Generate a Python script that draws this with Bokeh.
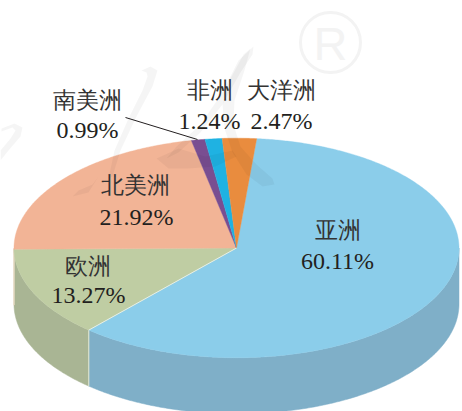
import numpy as np
from bokeh.embed import file_html
from bokeh.models import Range1d
from bokeh.plotting import figure
from bokeh.resources import INLINE
from bokeh.core.properties import value

# data (clockwise from the first slice)
regions = ["亚洲", "欧洲", "北美洲", "南美洲", "非洲", "大洋洲"]
shares = [60.11, 13.27, 21.92, 0.99, 1.24, 2.47]

# styling / layout
top_colors = ["#8BCDEA", "#BFCDA3", "#F2B496", "#794E91", "#1FB2E2", "#E98C3E"]
side_colors = ["#7FAFC8", "#A9B594", "#F2B496", "#794E91", "#1FB2E2", "#E98C3E"]
CX, CY, RX, RY, DEPTH = 236.0, 247.5, 222.5, 109.8, 56.0
START_DEG = 5.2
name_xy = [(337, 230), (87, 266), (135, 185), (87, 100), (209, 90), (281, 90)]
pct_xy = [(337, 260), (88, 294), (136, 216), (87, 129), (209, 120), (281, 120)]
TEXT_SIZE = "23px"
FONT = "Liberation Serif"

p = figure(width=462, height=411, output_backend="svg", toolbar_location=None,
           x_range=Range1d(0, 462), y_range=Range1d(411, 0),
           min_border=0, outline_line_color=None, background_fill_color="white")
p.xaxis.visible = False
p.yaxis.visible = False
p.grid.visible = False


def arc(t0, t1, dy=0.0):
    t = np.radians(np.linspace(t0, t1, max(int(abs(t1 - t0) * 2), 2) + 1))
    return CX + RX * np.sin(t), CY + dy - RY * np.cos(t)


# watermark mark (on the white page)
WM = "#000000"
p.scatter([330], [42], marker="circle", size=60, fill_color=None,
          line_color="#F3F3F3", line_width=3)
p.text([330], [43], text=["R"], text_font=value("Liberation Sans"), text_font_size="47px",
       text_color="#F3F3F3", text_align="center", text_baseline="middle")

edges = START_DEG + np.concatenate([[0], np.cumsum(shares)]) * 3.6

# side wall: only the front half (90..270 deg) is visible
for i in range(len(shares)):
    a, b = max(edges[i], 90.0), min(edges[i + 1], 270.0)
    if b > a:
        xt, yt = arc(a, b)
        xb, yb = arc(a, b, DEPTH)
        p.patch(np.concatenate([xt, xb[::-1]]), np.concatenate([yt, yb[::-1]]),
                fill_color=side_colors[i], line_color=side_colors[i], line_width=0.5)
        if a > 90.0:
            p.line([xt[0], xb[0]], [yt[0], yb[0]], line_color="#E4EBD8", line_width=1)

# top face
for i in range(len(shares)):
    xt, yt = arc(edges[i], edges[i + 1])
    p.patch(np.concatenate([[CX], xt]), np.concatenate([[CY], yt]),
            fill_color=top_colors[i], line_color=top_colors[i], line_width=0.4)
xa, ya = arc(edges[1], edges[1])
p.line([CX, xa[0]], [CY, ya[0]], line_color="#E4EFE8", line_width=1)

# faint brush-stroke watermark, over pie and page alike
strokes = [
    ([141, 150, 157, 152, 136, 120, 112, 108, 114, 128, 142, 147, 146],
     [70, 66, 70, 86, 116, 150, 176, 178, 150, 118, 90, 76, 72]),
    ([253, 252, 240, 222, 200, 178, 166, 176, 200, 222, 238],
     [46, 54, 72, 104, 132, 152, 158, 146, 124, 92, 60]),
    ([250, 244, 234, 233, 240, 256, 272, 274, 262, 246, 232, 224, 222, 230, 243],
     [48, 70, 100, 124, 146, 164, 178, 184, 186, 174, 152, 128, 104, 78, 54]),
    ([1, 14, 22, 20, 8, 0, 0, 10, 15, 12, 1],
     [128, 123, 127, 136, 150, 160, 150, 138, 130, 127, 131]),
    ([156, 178, 205, 232, 236, 215, 188, 168],
     [158, 148, 156, 150, 156, 166, 168, 168]),
    ([78, 92, 98, 88, 72], [190, 184, 176, 192, 196]),
]
for sx, sy in strokes:
    p.patch(sx, sy, fill_color=WM, fill_alpha=0.04, line_color=None)

# leader line for 南美洲
p.line([125, 197], [117, 139], line_color="#231F20", line_width=1)

# labels
for i in range(len(regions)):
    p.text([name_xy[i][0]], [name_xy[i][1]], text=[regions[i]],
           text_font=value(FONT), text_font_size=TEXT_SIZE, text_color="#333333",
           text_align="center", text_baseline="middle")
    p.text([pct_xy[i][0]], [pct_xy[i][1]], text=[f"{shares[i]:.2f}%"],
           text_font=value(FONT), text_font_size="24px",
           text_color="#231F20", text_align="center", text_baseline="middle")

html = file_html(p, INLINE)
html = html.replace("<head>", "<head><style>html,body{margin:0;padding:0;overflow:hidden}</style>", 1)
open("out.html", "w").write(html)
